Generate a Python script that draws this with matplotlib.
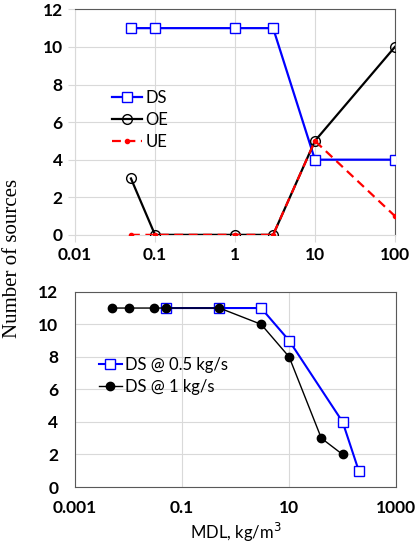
import matplotlib.pyplot as plt
from matplotlib.ticker import FixedLocator, NullLocator

# top panel data
mdl_top = [0.05, 0.1, 1, 3, 10, 100]
ds_top = [11, 11, 11, 11, 4, 4]
oe_top = [3, 0, 0, 0, 5, 10]
ue_top = [0, 0, 0, 0, 5, 1]
top_ticks = [0.01, 0.1, 1, 10, 100]
top_tick_labels = ['0.01', '0.1', '1', '10', '100']

# bottom panel data
mdl_05 = [0.05, 0.5, 3, 10, 100, 200]
ds_05 = [11, 11, 11, 9, 4, 1]
mdl_1 = [0.005, 0.01, 0.03, 0.05, 0.5, 3, 10, 40, 100]
ds_1 = [11, 11, 11, 11, 11, 10, 8, 3, 2]
bot_ticks = [0.001, 0.1, 10, 1000]
bot_tick_labels = ['0.001', '0.1', '10', '1000']

y_ticks = [0, 2, 4, 6, 8, 10, 12]

plt.rcParams['font.family'] = ['Lato', 'DejaVu Sans']
grid_c = '#d9d9d9'
frame_c = '#595959'

fig = plt.figure(figsize=(4.17, 5.5), dpi=100)
ax1 = fig.add_axes([0.18, 0.573, 0.767, 0.410])
ax2 = fig.add_axes([0.18, 0.1145, 0.77, 0.355])

# ---- top panel
ax1.plot(mdl_top, ds_top, color='#0000ff', lw=1.6, marker='s', ms=6.5,
         mfc='white', mec='#0000ff', mew=1.0, label='DS', zorder=3)
ax1.plot(mdl_top, oe_top, color='black', lw=1.6, marker='o', ms=7,
         mfc='none', mec='black', mew=1.0, label='OE', zorder=4)
ax1.plot(mdl_top, ue_top, color='#ff0000', lw=1.6, ls=(0, (4, 2.5)),
         marker='o', ms=3, mfc='#ff0000', mec='#ff0000', label='UE', zorder=5)
ax1.set_xscale('log')
ax1.set_xlim(0.01, 100)
ax1.set_ylim(0, 12)
ax1.xaxis.set_major_locator(FixedLocator(top_ticks))
ax1.xaxis.set_minor_locator(NullLocator())
ax1.set_xticklabels(top_tick_labels)
ax1.set_yticks(y_ticks)
ax1.grid(True, color=grid_c, lw=0.8)
for s in ['left', 'bottom']:
    ax1.spines[s].set_color(grid_c)
for s in ['top', 'right']:
    ax1.spines[s].set_color(frame_c)
ax1.tick_params(length=5, color=grid_c, labelsize=12.5, pad=4)
for lab in ax1.get_xticklabels() + ax1.get_yticklabels():
    lab.set_fontweight('bold')
ax1.legend(loc='center left', bbox_to_anchor=(0.095, 0.51), frameon=False,
           fontsize=12, handlelength=1.8, handletextpad=0.2, labelspacing=0.35,
           borderaxespad=0)

# ---- bottom panel
ax2.plot(mdl_05, ds_05, color='#0000ff', lw=1.5, marker='s', ms=7,
         mfc='white', mec='#0000ff', mew=1.0, label='DS @ 0.5 kg/s', zorder=3)
ax2.plot(mdl_1, ds_1, color='black', lw=1.0, marker='o', ms=6,
         mfc='black', mec='black', label='DS @ 1 kg/s', zorder=4)
ax2.set_xscale('log')
ax2.set_xlim(0.001, 1000)
ax2.set_ylim(0, 12)
ax2.xaxis.set_major_locator(FixedLocator(bot_ticks))
ax2.xaxis.set_minor_locator(NullLocator())
ax2.set_xticklabels(bot_tick_labels)
ax2.set_yticks(y_ticks)
ax2.grid(True, color=grid_c, lw=0.8)
for s in ax2.spines.values():
    s.set_color(frame_c)
ax2.tick_params(axis='x', length=0, labelsize=12.5, pad=9)
ax2.tick_params(axis='y', length=0, labelsize=12.5, pad=12)
for lab in ax2.get_xticklabels() + ax2.get_yticklabels():
    lab.set_fontweight('bold')
ax2.legend(loc='center left', bbox_to_anchor=(0.053, 0.57), frameon=False,
           fontsize=12, handlelength=1.4, handletextpad=0.2, labelspacing=0.35,
           borderaxespad=0)
ax2.set_xlabel('MDL, kg/m$^3$', fontsize=12, labelpad=4)

fig.text(0.03, 0.531, 'Number of sources', rotation=90, va='center', ha='center',
         fontsize=15, family=['Liberation Serif', 'DejaVu Serif'])

fig.savefig('out.png', dpi=100)
